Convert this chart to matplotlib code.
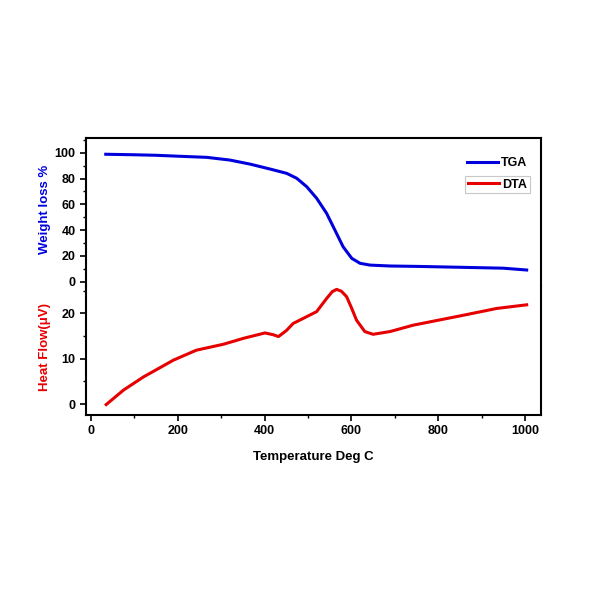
import matplotlib
matplotlib.use("Agg")
import matplotlib.pyplot as plt
from matplotlib.ticker import MultipleLocator

plt.rcParams['font.family'] = ['Liberation Sans', 'DejaVu Sans']
plt.rcParams['font.weight'] = 'bold'

# TGA data (Temperature, Weight loss %)
tga_temp = [34, 100, 150, 200, 267, 320, 366, 412, 451, 474, 497, 520, 543, 562,
            581, 601, 620, 643, 689, 750, 866, 950, 1004]
tga_weight = [98.8, 98.4, 98.0, 97.3, 96.4, 94.3, 91.2, 87.4, 84.0, 80.2, 73.7, 64.7,
              53.0, 40.1, 27.1, 18.1, 14.3, 12.9, 12.2, 11.9, 11.1, 10.5, 9.1]

# DTA data (Temperature, Heat flow)
dta_temp = [35, 75, 121, 190, 243, 305, 351, 401, 420, 432, 450, 466, 489, 520, 543,
            556, 566, 577, 589, 600, 612, 631, 650, 689, 742, 800, 858, 935, 1004]
dta_heat = [-0.1, 3.1, 6.0, 9.7, 11.9, 13.2, 14.5, 15.7, 15.3, 14.9, 16.2, 17.8, 18.9,
            20.4, 23.3, 24.8, 25.3, 24.9, 23.7, 21.3, 18.5, 16.0, 15.4, 16.0, 17.4,
            18.5, 19.6, 21.1, 21.9]

x_ticks = [0, 200, 400, 600, 800, 1000]
tga_ticks = [0, 20, 40, 60, 80, 100]
dta_ticks = [0, 10, 20]

BLUE = '#0000dd'
RED = '#e60000'

fig = plt.figure(figsize=(6, 6), dpi=100)
L, W = 86 / 600, (541 - 86) / 600
y_top, y_mid, y_bot = 138, 286, 415
ax1 = fig.add_axes([L, 1 - y_mid / 600, W, (y_mid - y_top) / 600])
ax2 = fig.add_axes([L, 1 - y_bot / 600, W, (y_bot - y_mid) / 600], sharex=ax1)

l1, = ax1.plot(tga_temp, tga_weight, color=BLUE, lw=2.2, solid_joinstyle='round')
l2, = ax2.plot(dta_temp, dta_heat, color=RED, lw=2.2, solid_joinstyle='round')

ax1.set_xlim(-11.5, 1037)
ax1.set_ylim(-3.3, 111.4)
ax2.set_ylim(-2.4, 26.05)

for ax in (ax1, ax2):
    for s in ax.spines.values():
        s.set_linewidth(1.5)
    ax.tick_params(which='major', direction='out', length=4, width=1.2,
                   right=False, top=False)
    ax.tick_params(which='minor', direction='out', length=2.5, width=1.0,
                   right=False, top=False)

ax1.spines['bottom'].set_visible(False)
ax2.spines['top'].set_visible(False)
ax1.tick_params(axis='x', which='both', bottom=False, labelbottom=False)

ax1.set_yticks(tga_ticks)
ax1.yaxis.set_minor_locator(MultipleLocator(10))
ax2.set_yticks(dta_ticks)
ax2.yaxis.set_minor_locator(MultipleLocator(5))
ax2.set_xticks(x_ticks)
ax2.xaxis.set_minor_locator(MultipleLocator(100))
for ax in (ax1, ax2):
    for lab in ax.get_yticklabels() + ax.get_xticklabels():
        lab.set_fontweight('bold')
        lab.set_fontsize(9)

ax2.set_xlabel('Temperature Deg C', fontsize=9.5, fontweight='bold', labelpad=10)

fig.text(45 / 600, 1 - 209 / 600, 'Weight loss %', rotation=90, color=BLUE,
         fontsize=9.5, fontweight='bold', ha='center', va='center')
fig.text(45 / 600, 1 - 347 / 600, 'Heat Flow(μV)', rotation=90, color=RED,
         fontsize=9.5, fontweight='bold', ha='center', va='center')

leg1 = ax1.legend([l1], ['TGA'], loc='center', frameon=False,
                  bbox_to_anchor=(497 / 600, 1 - 163 / 600), bbox_transform=fig.transFigure,
                  prop={'weight': 'bold', 'size': 9}, handlelength=2.5, handletextpad=0.25,
                  borderpad=0.2)
ax1.add_artist(leg1)
leg2 = ax1.legend([l2], ['DTA'], loc='center', frameon=True, fancybox=False,
                  bbox_to_anchor=(497.5 / 600, 1 - 184.5 / 600), bbox_transform=fig.transFigure,
                  prop={'weight': 'bold', 'size': 9}, handlelength=2.5, handletextpad=0.25,
                  borderpad=0.2, edgecolor='#c8c8c8', framealpha=1)
leg2.get_frame().set_linewidth(0.8)

fig.savefig('out.png', dpi=100)
